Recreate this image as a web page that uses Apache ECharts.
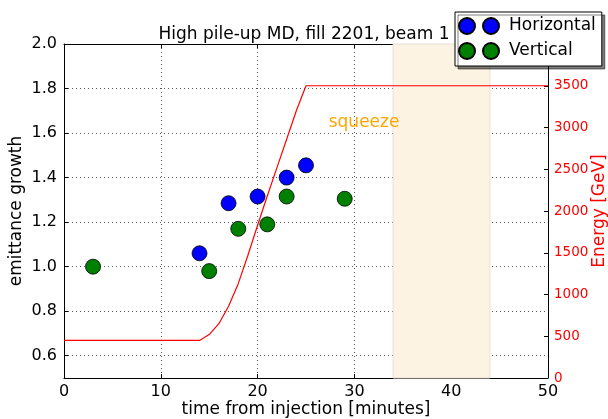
<!DOCTYPE html>
<html>
<head>
<meta charset="utf-8">
<script src="https://cdn.jsdelivr.net/npm/echarts@6/dist/echarts.min.js"></script>
<style>
  html, body { margin: 0; padding: 0; background: #fff; }
  #chart { width: 608px; height: 419px; }
</style>
</head>
<body>
<div id="chart"></div>
<script>
// emittance growth measurements
const horizontalTime = [14, 17, 20, 23, 25]
const horizontalGrowth = [1.06, 1.285, 1.315, 1.40, 1.455]
const verticalTime = [3, 15, 18, 21, 23, 29]
const verticalGrowth = [1.0, 0.98, 1.17, 1.19, 1.315, 1.305]

// beam energy ramp
const energyTime = [0, 14, 15, 16, 17, 18, 19, 20, 21, 22, 23, 24, 25, 50]
const energyGeV = [450, 450, 520, 650, 860, 1130, 1470, 1830, 2180, 2520, 2860, 3200, 3500, 3500]

// squeeze window
const squeezeStart = 34
const squeezeEnd = 44
const squeezeLabelPos = [31, 1.645]

const font = 'DejaVu Sans'
const pairs = (xs, ys) => xs.map((x, i) => [x, ys[i]])
const twoDots = 'path://M0,8A8,8,0,1,1,16,8A8,8,0,1,1,0,8ZM24,8A8,8,0,1,1,40,8A8,8,0,1,1,24,8Z'

const chart = echarts.init(document.getElementById('chart'))

const option = {
  animation: false,
  title: {
    text: 'High pile-up MD, fill 2201, beam 1',
    left: 'center',
    top: 21,
    textStyle: { fontFamily: font, fontSize: 17, fontWeight: 'normal', color: '#000' }
  },
  legend: {
    orient: 'vertical',
    left: 455,
    top: 12,
    padding: [5, 6, 6, 3],
    itemWidth: 40,
    itemHeight: 16,
    itemGap: 7,
    backgroundColor: '#fff',
    borderColor: '#000',
    borderWidth: 1,
    shadowColor: 'rgba(0,0,0,0.5)',
    shadowOffsetX: 3,
    shadowOffsetY: 3,
    z: 10,
    textStyle: { fontFamily: font, fontSize: 17, color: '#000', padding: [0, 0, 0, 5] },
    data: [
      { name: 'Horizontal', icon: twoDots },
      { name: 'Vertical', icon: twoDots }
    ]
  },
  grid: { left: 64, right: 60, top: 44, bottom: 41, outerBoundsMode: 'none', containLabel: false },
  xAxis: [
    {
      type: 'value',
      min: 0,
      max: 50,
      interval: 10,
      name: 'time from injection [minutes]',
      nameLocation: 'middle',
      nameGap: 23,
      nameMoveOverlap: false,
      nameTextStyle: { fontFamily: font, fontSize: 17, color: '#000' },
      axisLine: { onZero: false, lineStyle: { color: '#000', width: 1 } },
      axisTick: { inside: true, length: 4, lineStyle: { color: '#000' } },
      axisLabel: { fontFamily: font, fontSize: 16, color: '#000', margin: 6 },
      splitLine: { show: true, lineStyle: { color: '#555', type: [1, 3], width: 1 } }
    },
    {
      type: 'value',
      position: 'top',
      min: 0,
      max: 50,
      interval: 10,
      axisLine: { onZero: false, lineStyle: { color: '#000', width: 1 } },
      axisTick: { inside: true, length: 4, lineStyle: { color: '#000' } },
      axisLabel: { show: false },
      splitLine: { show: false }
    }
  ],
  yAxis: [
    {
      type: 'value',
      min: 0.5,
      max: 2.0,
      splitNumber: 7,
      name: 'emittance growth',
      nameLocation: 'middle',
      nameGap: 39,
      nameMoveOverlap: false,
      nameTextStyle: { fontFamily: font, fontSize: 17, color: '#000' },
      axisLine: { show: true, onZero: false, lineStyle: { color: '#000', width: 1 } },
      axisTick: { inside: true, length: 4, lineStyle: { color: '#000' } },
      axisLabel: {
        fontFamily: font, fontSize: 16, color: '#000', margin: 7,
        formatter: v => (v < 0.55 ? '' : v.toFixed(1))
      },
      splitLine: { show: true, lineStyle: { color: '#555', type: [1, 3], width: 1 } }
    },
    {
      type: 'value',
      min: 0,
      max: 4000,
      interval: 500,
      position: 'right',
      name: 'Energy [GeV]',
      nameLocation: 'middle',
      nameGap: 43,
      nameRotate: 90,
      nameMoveOverlap: false,
      nameTextStyle: { fontFamily: font, fontSize: 17, color: '#ff0000' },
      axisLine: { show: true, onZero: false, lineStyle: { color: '#000', width: 1 } },
      axisTick: { inside: true, length: 4, lineStyle: { color: '#000' } },
      axisLabel: {
        fontFamily: font, fontSize: 13.5, color: '#ff0000', margin: 6,
        formatter: v => (v >= 4000 ? '' : String(v))
      },
      splitLine: { show: false }
    }
  ],
  series: [
    {
      name: 'squeeze',
      type: 'line',
      data: [],
      z: -1,
      silent: true,
      markArea: {
        silent: true,
        itemStyle: { color: '#fdf3e2', borderColor: '#e6e0d6', borderWidth: 1 },
        data: [[{ xAxis: squeezeStart }, { xAxis: squeezeEnd }]]
      }
    },
    {
      name: 'Energy',
      type: 'line',
      xAxisIndex: 0,
      yAxisIndex: 1,
      data: pairs(energyTime, energyGeV),
      showSymbol: false,
      lineStyle: { color: '#ff0000', width: 1.2 },
      itemStyle: { color: '#ff0000' },
      z: 2
    },
    {
      name: 'Horizontal',
      type: 'scatter',
      data: pairs(horizontalTime, horizontalGrowth),
      symbolSize: 15,
      itemStyle: { color: '#0000ff', borderColor: '#000', borderWidth: 0.8, opacity: 1 },
      z: 3
    },
    {
      name: 'Vertical',
      type: 'scatter',
      data: pairs(verticalTime, verticalGrowth),
      symbolSize: 15,
      itemStyle: { color: '#008000', borderColor: '#000', borderWidth: 0.8, opacity: 1 },
      z: 3,
      markPoint: {
        symbol: 'circle',
        symbolSize: 0,
        silent: true,
        label: {
          show: true,
          position: 'inside',
          formatter: 'squeeze',
          fontFamily: font,
          fontSize: 17,
          color: '#ffa500'
        },
        data: [{ coord: squeezeLabelPos }]
      }
    }
  ]
}

chart.setOption(option)
</script>
</body>
</html>
